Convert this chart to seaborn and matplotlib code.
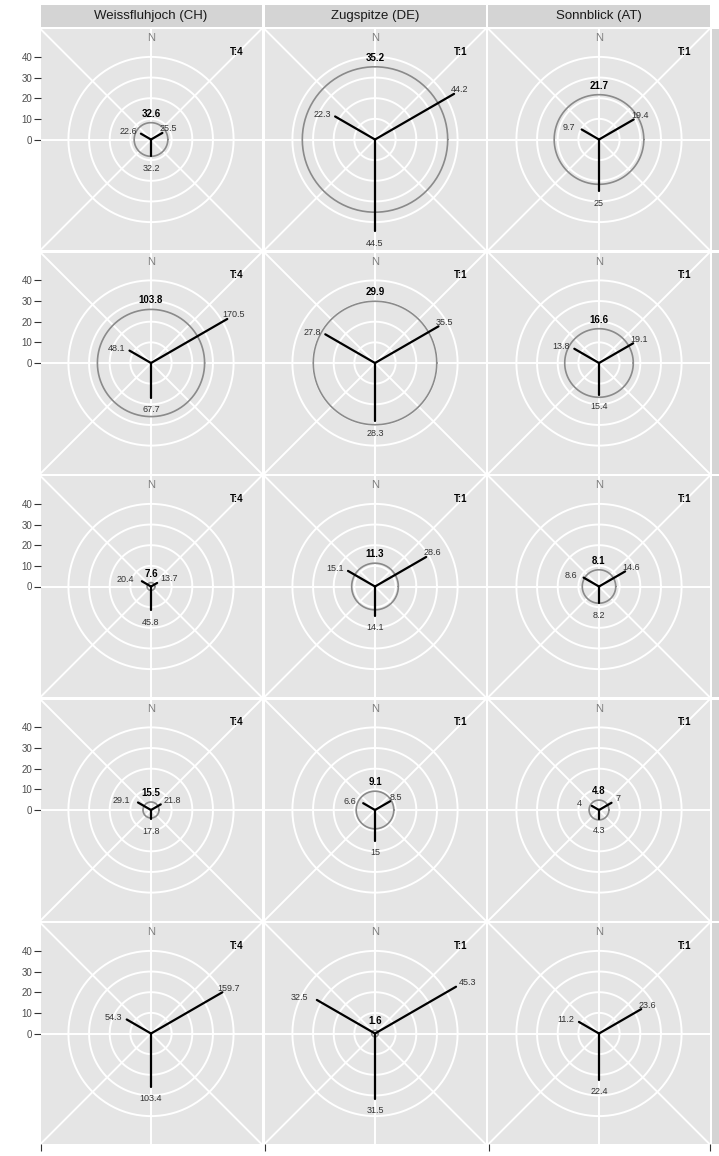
import numpy as np
import pandas as pd
import matplotlib
matplotlib.use("Agg")
import matplotlib.pyplot as plt
from matplotlib.patches import Rectangle
import seaborn as sns

# ---- data -------------------------------------------------------------
stations = ["Weissfluhjoch (CH)", "Zugspitze (DE)", "Sonnblick (AT)"]
t_factor = [4, 1, 1]
nan = np.nan

# one row per facet row, one column per station
mean_val = [[32.6, 35.2, 21.7],
            [103.8, 29.9, 16.6],
            [7.6, 11.3, 8.1],
            [15.5, 9.1, 4.8],
            [nan, 1.6, nan]]
ne_val = [[25.5, 44.2, 19.4],
          [170.5, 35.5, 19.1],
          [13.7, 28.6, 14.6],
          [21.8, 8.5, 7.0],
          [159.7, 45.3, 23.6]]
nw_val = [[22.6, 22.3, 9.7],
          [48.1, 27.8, 13.8],
          [20.4, 15.1, 8.6],
          [29.1, 6.6, 4.0],
          [54.3, 32.5, 11.2]]
s_val = [[32.2, 44.5, 25.0],
         [67.7, 28.3, 15.4],
         [45.8, 14.1, 8.2],
         [17.8, 15.0, 4.3],
         [103.4, 31.5, 22.4]]

spoke_names = ["NE", "NW", "S"]
spoke_bearing = [60, 300, 180]          # degrees clockwise from north
grid_radii = [10, 20, 30, 40]
y_ticks = [0, 10, 20, 30, 40]

# ---- style ------------------------------------------------------------
sns.set_style("white", {"axes.facecolor": "#E5E5E5"})
plt.rcParams["font.family"] = ["Liberation Sans", "DejaVu Sans"]

W, H = 719, 1156
fig = plt.figure(figsize=(W / 100, H / 100), dpi=100)
fig.patch.set_facecolor("white")

L = 53.5
col_left = [40.5, 264.5, 488.5]
pw = 221
row_top = [29 + 223.5 * i for i in range(5)]
ph = 221

# label offsets (pixels) for each spoke direction
lab_off = {"NE": (6, 4), "NW": (-13, 2), "S": (0, -12)}

theta = np.linspace(0, 2 * np.pi, 181)
grid_kw = dict(color="white", lw=1.4, zorder=1)


def fig_rect(x, y, w, h):
    return [x / W, 1 - (y + h) / H, w / W, h / H]


for i in range(5):
    for j in range(3):
        ax = fig.add_axes(fig_rect(col_left[j], row_top[i], pw, ph))
        ax.set_xlim(-L, L)
        ax.set_ylim(-L, L)
        for s in ax.spines.values():
            s.set_visible(False)

        # background grid
        for r in grid_radii:
            ax.plot(r * np.cos(theta), r * np.sin(theta), **grid_kw)
        ax.plot([-L, L], [-L, L], **grid_kw)
        ax.plot([-L, L], [L, -L], **grid_kw)
        ax.axhline(0, **grid_kw)
        ax.axvline(0, **grid_kw)

        T = t_factor[j]
        vals = [ne_val[i][j], nw_val[i][j], s_val[i][j]]
        rows = []
        for nm, b, v in zip(spoke_names, spoke_bearing, vals):
            r = v / T
            ang = np.deg2rad(90 - b)
            rows.append({"seg": nm, "x": 0.0, "y": 0.0})
            rows.append({"seg": nm, "x": r * np.cos(ang), "y": r * np.sin(ang)})
        seg_df = pd.DataFrame(rows)

        # mean circle
        m = mean_val[i][j]
        if not np.isnan(m):
            rc = m / T
            ax.plot(rc * np.cos(theta), rc * np.sin(theta), color="#8A8A8A",
                    lw=1.2, zorder=2)

        sns.lineplot(data=seg_df, x="x", y="y", units="seg", estimator=None,
                     sort=False, color="black", lw=1.6, ax=ax, legend=False,
                     zorder=3)
        ax.set_xlabel("")
        ax.set_ylabel("")

        # spoke labels; short spokes next to the bold label get pushed out
        crowded = (not np.isnan(m)) and (m / T < 4)
        for nm, b, v in zip(spoke_names, spoke_bearing, vals):
            r = v / T
            ang = np.deg2rad(90 - b)
            dx, dy = lab_off[nm]
            if crowded and nm == "NE":
                dx += 6
            if crowded and nm == "NW":
                dx -= 4
            ax.annotate(f"{v:g}", (r * np.cos(ang), r * np.sin(ang)),
                        xytext=(dx, dy), textcoords="offset pixels",
                        ha="center", va="center", fontsize=6.5,
                        color="#333333", zorder=4)
        if not np.isnan(m):
            ax.annotate(f"{m:g}", (0, m / T), xytext=(0, 9),
                        textcoords="offset pixels", ha="center",
                        va="center", fontsize=7, fontweight="bold",
                        color="black", zorder=4)

        ax.text(0, 49.0, "N", ha="center", va="center", fontsize=8,
                color="#7F7F7F", zorder=4)
        ax.text(41.5, 42.5, f"T:{T}", ha="center", va="center", fontsize=7,
                fontweight="bold", color="black", zorder=4)

        # axes ticks
        if j == 0:
            ax.set_yticks(y_ticks)
            ax.set_yticklabels([str(t) for t in y_ticks])
        else:
            ax.set_yticks([])
        if i == 4:
            ax.set_xticks([-L, L] if j == 2 else [-L])
            ax.set_xticklabels([""] * len(ax.get_xticks()))
        else:
            ax.set_xticks([])
        ax.tick_params(axis="both", length=5, width=0.8, color="#333333",
                       labelsize=7, labelcolor="#4D4D4D", pad=1,
                       left=(j == 0), bottom=(i == 4))

# facet strips
strip_col = "#D4D4D4"
for j, name in enumerate(stations):
    x0, y0, w, h = fig_rect(col_left[j], 5, pw, 22)
    fig.add_artist(Rectangle((x0, y0), w, h, transform=fig.transFigure,
                             facecolor=strip_col, edgecolor="none"))
    fig.text(x0 + w / 2, y0 + h / 2, name, ha="center", va="center",
             fontsize=9.5, color="#1A1A1A")
for i in range(5):
    x0, y0, w, h = fig_rect(712, row_top[i], 22, ph)
    fig.add_artist(Rectangle((x0, y0), w, h, transform=fig.transFigure,
                             facecolor=strip_col, edgecolor="none"))

fig.savefig("out.png", dpi=100)
